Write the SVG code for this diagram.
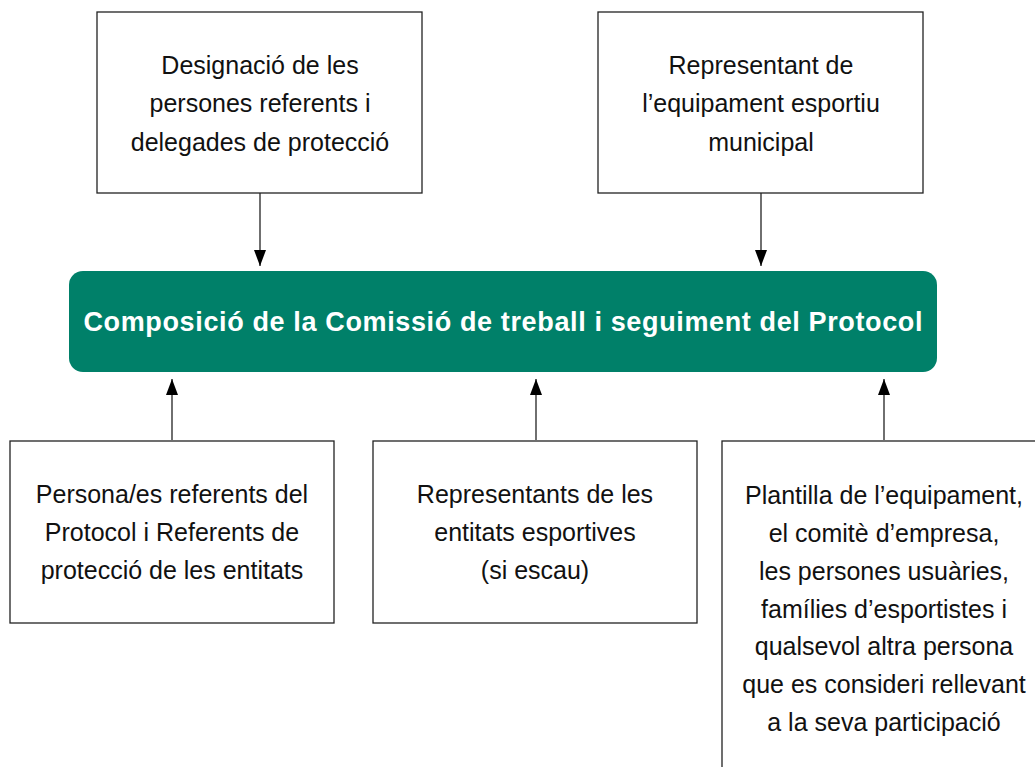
<svg xmlns="http://www.w3.org/2000/svg" width="1035" height="767" viewBox="0 0 1035 767">
<style>
.box{fill:#fff;stroke:#222;stroke-width:1.3}
.t{font-family:"Liberation Sans",Arial,sans-serif;font-size:25px;fill:#111;text-anchor:middle}
.h{font-family:"Liberation Sans",Arial,sans-serif;font-size:27px;font-weight:bold;fill:#fff;text-anchor:middle}
.c{stroke:#222;stroke-width:1.3;fill:none;marker-end:url(#ah)}
</style>
<defs>
<marker id="ah" viewBox="0 0 16 12" refX="16" refY="6" markerWidth="16" markerHeight="12" markerUnits="userSpaceOnUse" orient="auto">
<path d="M0,0 L16,6 L0,12 Z" fill="#000"/>
</marker>
</defs>
<rect width="1035" height="767" fill="#fff"/>
<g id="connectors">
<line class="c" x1="260" y1="193" x2="260" y2="266"/>
<line class="c" x1="761" y1="193" x2="761" y2="266"/>
<line class="c" x1="172" y1="440" x2="172" y2="379"/>
<line class="c" x1="536" y1="440" x2="536" y2="379"/>
<line class="c" x1="884" y1="440" x2="884" y2="379"/>
</g>
<g id="n1">
<rect class="box" x="97" y="12" width="325" height="181"/>
<text class="t" x="260" y="74">Designació de les</text>
<text class="t" x="260" y="112">persones referents i</text>
<text class="t" x="260" y="151">delegades de protecció</text>
</g>
<g id="n2">
<rect class="box" x="598" y="12" width="325" height="181"/>
<text class="t" x="761" y="74">Representant de</text>
<text class="t" x="761" y="112">l’equipament esportiu</text>
<text class="t" x="761" y="151">municipal</text>
</g>
<g id="main">
<rect x="69" y="271" width="868" height="101" rx="14" fill="#008069"/>
<text class="h" x="503" y="331" textLength="839" lengthAdjust="spacing">Composició de la Comissió de treball i seguiment del Protocol</text>
</g>
<g id="n3">
<rect class="box" x="10" y="441" width="324" height="182"/>
<text class="t" x="172" y="503">Persona/es referents del</text>
<text class="t" x="172" y="541">Protocol i Referents de</text>
<text class="t" x="172" y="579">protecció de les entitats</text>
</g>
<g id="n4">
<rect class="box" x="373" y="441" width="324" height="182"/>
<text class="t" x="535" y="503">Representants de les</text>
<text class="t" x="535" y="541">entitats esportives</text>
<text class="t" x="535" y="579">(si escau)</text>
</g>
<g id="n5">
<rect class="box" x="722" y="441" width="330" height="340"/>
<text class="t" x="884" y="504">Plantilla de l’equipament,</text>
<text class="t" x="884" y="542">el comitè d’empresa,</text>
<text class="t" x="884" y="580">les persones usuàries,</text>
<text class="t" x="884" y="618">famílies d’esportistes i</text>
<text class="t" x="884" y="655">qualsevol altra persona</text>
<text class="t" x="884" y="693">que es consideri rellevant</text>
<text class="t" x="884" y="731">a la seva participació</text>
</g>
</svg>
